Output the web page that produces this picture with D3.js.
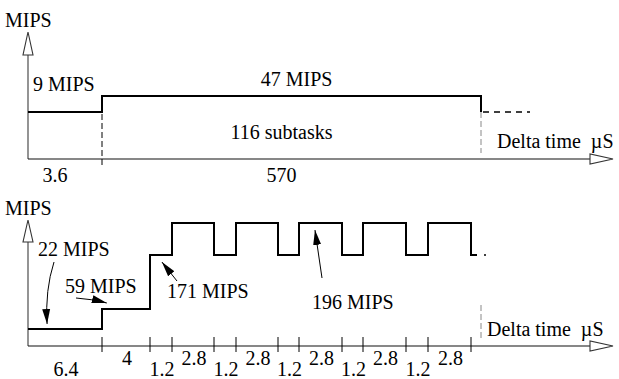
<!DOCTYPE html>
<html>
<head>
<meta charset="utf-8">
<script src="https://cdn.jsdelivr.net/npm/d3@7"></script>
</head>
<body style="margin:0;background:#fff">
<script>
// donnees
const topTimes = [3.6, 570];
const topMips = [9, 47];
const topNextMips = 9;
const topTickLabels = ["3.6", "570"];
const topLevelLabels = ["9 MIPS", "47 MIPS"];
const topNote = "116 subtasks";

const bottomTimes = [6.4, 4, 1.2, 2.8, 1.2, 2.8, 1.2, 2.8, 1.2, 2.8, 1.2, 2.8];
const bottomMips = [22, 59, 171, 196, 171, 196, 171, 196, 171, 196, 171, 196];
const bottomNextMips = 171;
const bottomTickLabels = ["6.4", "4", "1.2", "2.8", "1.2", "2.8", "1.2", "2.8", "1.2", "2.8", "1.2", "2.8"];
const calloutLabels = ["22 MIPS", "59 MIPS", "171 MIPS", "196 MIPS"];
const calloutMips = [22, 59, 171, 196];

const yTitle = "MIPS";
const xTitle = "Delta time\u00a0 \u00b5S";

// mise en page (le dessin n'est pas a l'echelle, d'ou des echelles par morceaux)
const x0 = 28, xArrowBase = 590, xArrowTip = 613;
const topPanel = { base: 159, arrowBase: 55, arrowTip: 32,
  xStops: [28, 102, 481], yStops: [159, 112, 96] };
const botPanel = { base: 346, arrowBase: 242, arrowTip: 220,
  xStops: [28, 102, 150, 172, 214, 236, 278, 299, 342, 363, 406, 428, 471],
  yStops: [346, 329, 309, 255, 223] };
const FONT = "Liberation Serif";

const svg = d3.select("body").append("svg")
  .attr("width", 619).attr("height", 379);

// texte avec la police sur chaque element
function txt(sel) {
  return sel.attr("font-family", FONT).attr("font-size", 20).attr("fill", "#000");
}

svg.append("defs").append("marker")
  .attr("id", "head")
  .attr("markerUnits", "userSpaceOnUse")
  .attr("markerWidth", 16).attr("markerHeight", 10)
  .attr("viewBox", "0 -5 16 10")
  .attr("refX", 15).attr("refY", 0)
  .attr("orient", "auto")
  .append("path").attr("d", "M0,-4L15,0L0,4Z").attr("fill", "#000");

const cumTop = Array.from(d3.cumsum([0, ...topTimes]));
const cumBot = Array.from(d3.cumsum([0, ...bottomTimes]));

const xTop = d3.scaleLinear().domain(cumTop).range(topPanel.xStops);
const yTop = d3.scaleLinear().domain([0, ...topMips]).range(topPanel.yStops);
const xBot = d3.scaleLinear().domain(cumBot).range(botPanel.xStops);
const yBot = d3.scaleLinear().domain([0, 22, 59, 171, 196]).range(botPanel.yStops);

function drawAxes(p) {
  const g = svg.append("g").attr("fill", "#fff");
  g.append("line").attr("x1", x0).attr("x2", x0).attr("y1", p.base).attr("y2", p.arrowBase)
    .attr("stroke", "#666").attr("stroke-width", 1.4);
  g.append("path").attr("d", `M${x0},${p.arrowTip}L${x0 - 5},${p.arrowBase}L${x0 + 5},${p.arrowBase}Z`)
    .attr("stroke", "#333").attr("stroke-width", 1.1);
  g.append("line").attr("x1", x0).attr("x2", xArrowBase).attr("y1", p.base).attr("y2", p.base)
    .attr("stroke", "#111").attr("stroke-width", 1.1);
  g.append("path").attr("d", `M${xArrowTip},${p.base}L${xArrowBase},${p.base - 5}L${xArrowBase},${p.base + 5}Z`)
    .attr("stroke", "#333").attr("stroke-width", 1.1);
  txt(svg.append("text")).attr("x", 5).attr("y", p.arrowTip - 5).text(yTitle);
}

const line = d3.line().curve(d3.curveStepAfter);

// ---- graphe du haut
drawAxes(topPanel);

svg.append("line")
  .attr("x1", xTop(cumTop[1])).attr("x2", xTop(cumTop[1]))
  .attr("y1", yTop(topMips[1])).attr("y2", topPanel.base + 6)
  .attr("stroke", "#000").attr("stroke-dasharray", "6,3");
svg.append("line")
  .attr("x1", xTop(cumTop[2])).attr("x2", xTop(cumTop[2]))
  .attr("y1", yTop(topNextMips)).attr("y2", topPanel.base - 6)
  .attr("stroke", "#888").attr("stroke-dasharray", "6,3");

const topPts = topMips.map((m, i) => [xTop(cumTop[i]), yTop(m)]);
topPts.push([xTop(cumTop[topMips.length]), yTop(topNextMips)]);
svg.append("path").attr("d", line(topPts))
  .attr("fill", "none").attr("stroke", "#000").attr("stroke-width", 2);
svg.append("line")
  .attr("x1", xTop(cumTop[2]) + 2).attr("x2", xTop(cumTop[2]) + 49)
  .attr("y1", yTop(topNextMips)).attr("y2", yTop(topNextMips))
  .attr("stroke", "#000").attr("stroke-width", 1.5).attr("stroke-dasharray", "6,5");

txt(svg.append("text")).attr("x", x0 + 5).attr("y", yTop(topMips[0]) - 21).text(topLevelLabels[0]);
const midTop = (xTop(cumTop[1]) + xTop(cumTop[2])) / 2;
txt(svg.append("text")).attr("x", midTop + 41).attr("y", yTop(topMips[1]) - 10)
  .attr("text-anchor", "end").text(topLevelLabels[1]);
txt(svg.append("text")).attr("x", midTop + 41).attr("y", yTop(topMips[1]) + 43)
  .attr("text-anchor", "end").text(topNote);
txt(svg.append("text")).attr("x", 497).attr("y", topPanel.base - 11).text(xTitle);

txt(svg.selectAll(".ttick").data(topTickLabels).join("text"))
  .attr("x", (d, i) => (xTop(cumTop[i]) + xTop(cumTop[i + 1])) / 2 - 10)
  .attr("y", topPanel.base + 23)
  .attr("text-anchor", "middle").text(d => d);

// ---- graphe du bas
drawAxes(botPanel);

svg.append("line")
  .attr("x1", xTop(cumTop[2])).attr("x2", xTop(cumTop[2]))
  .attr("y1", 305).attr("y2", botPanel.base - 8)
  .attr("stroke", "#888").attr("stroke-dasharray", "6,3");

svg.selectAll(".btick").data(cumBot.slice(1)).join("line")
  .attr("x1", d => xBot(d)).attr("x2", d => xBot(d))
  .attr("y1", botPanel.base - 9).attr("y2", botPanel.base + 6)
  .attr("stroke", "#000").attr("stroke-width", 1);

const botPts = bottomMips.map((m, i) => [xBot(cumBot[i]), yBot(m)]);
const endX = xBot(cumBot[bottomMips.length]);
botPts.push([endX, yBot(bottomNextMips)]);
svg.append("path").attr("d", line(botPts) + `L${endX + 6},${yBot(bottomNextMips)}`)
  .attr("fill", "none").attr("stroke", "#000").attr("stroke-width", 2);
svg.append("circle").attr("cx", endX + 14).attr("cy", yBot(bottomNextMips)).attr("r", 1).attr("fill", "#000");

txt(svg.selectAll(".blab").data(bottomTickLabels).join("text"))
  .attr("x", (d, i) => (xBot(cumBot[i]) + xBot(cumBot[i + 1])) / 2 + 1)
  .attr("y", (d, i) => i % 2 === 0 ? botPanel.base + 30 : botPanel.base + 19)
  .attr("text-anchor", "middle").text(d => d);

txt(svg.append("text")).attr("x", 487).attr("y", botPanel.base - 10).text(xTitle);

// annotations avec fleches
const calloutLayout = [
  { tx: 38, ty: 256, path: (tip) => `M54,262 Q45,290 ${tip[0]},${tip[1]}`, t: 1.65, dy: -5 },
  { tx: 65, ty: 293, path: (tip) => `M76,298 Q92,299 ${tip[0]},${tip[1]}`, t: 6.8, dy: -6 },
  { tx: 167, ty: 298, path: (tip) => `M177,281 L${tip[0]},${tip[1]}`, t: 11.05, dy: 7 },
  { tx: 312, ty: 309, path: (tip) => `M322,278 L${tip[0]},${tip[1]}`, t: 20.64, dy: 7 }
];
calloutLabels.forEach((lab, i) => {
  const c = calloutLayout[i];
  const tip = [xBot(c.t), yBot(calloutMips[i]) + c.dy];
  svg.append("path").attr("d", c.path(tip))
    .attr("fill", "none").attr("stroke", "#000").attr("stroke-width", 1)
    .attr("marker-end", "url(#head)");
  txt(svg.append("text")).attr("x", c.tx).attr("y", c.ty).text(lab);
});
</script>
</body>
</html>
